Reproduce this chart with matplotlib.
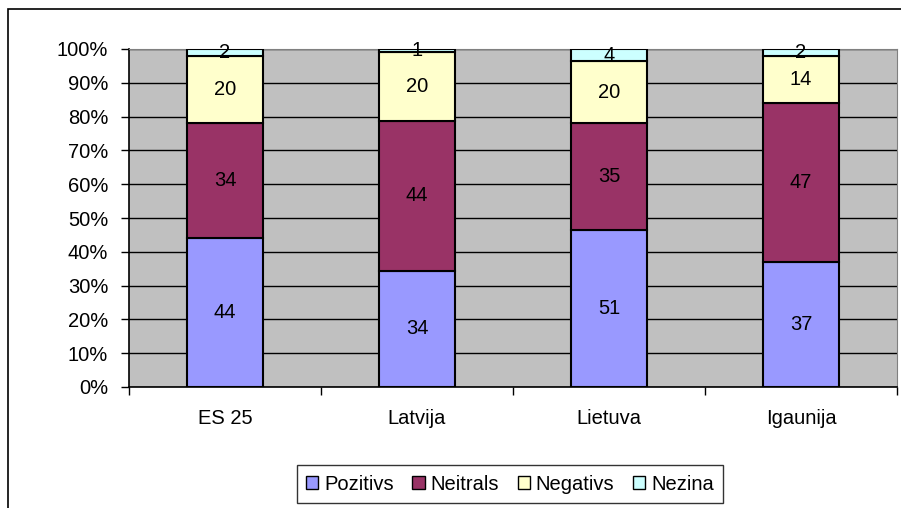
import numpy as np
import matplotlib.pyplot as plt
from matplotlib.patches import Rectangle
from matplotlib.ticker import FixedLocator, PercentFormatter

plt.rcParams['font.family'] = ['Liberation Sans', 'DejaVu Sans']

countries = ['ES 25', 'Latvija', 'Lietuva', 'Igaunija']
series_names = ['Pozitivs', 'Neitrals', 'Negativs', 'Nezina']
pozitivs = [44, 34, 51, 37]
neitrals = [34, 44, 35, 47]
negativs = [20, 20, 20, 14]
nezina = [2, 1, 4, 2]
colors = ['#9999FF', '#993366', '#FFFFCC', '#CCFFFF']

W, H = 901, 508
fig = plt.figure(figsize=(W / 100, H / 100), dpi=100)
ax = fig.add_axes([129 / W, (H - 387) / H, 768 / W, 338 / H])
ax.set_facecolor('#C0C0C0')

values = np.array([pozitivs, neitrals, negativs, nezina], dtype=float)
totals = values.sum(axis=0)
shares = values / totals * 100            # 100% stacked
x = np.arange(len(countries))
bottom = np.zeros(len(countries))
for name, raw, share, col in zip(series_names, values, shares, colors):
    ax.bar(x, share, 0.396, bottom=bottom, color=col, edgecolor='black',
           linewidth=1.5, label=name, zorder=3)
    for xi, b, s, r in zip(x, bottom, share, raw):
        ax.text(xi, b + s / 2, f'{r:.0f}', ha='center', va='center',
                fontsize=14.5, zorder=4)
    bottom += share

ax.set_xlim(-0.5, len(countries) - 0.5)
ax.set_ylim(0, 100)
ax.set_yticks(np.arange(0, 101, 10))
ax.yaxis.set_major_formatter(PercentFormatter(decimals=0))
ax.grid(axis='y', color='black', linewidth=1, zorder=1)
ax.set_axisbelow(True)

# ticks between categories, labels at centres
ax.xaxis.set_major_locator(FixedLocator(np.arange(-0.5, len(countries), 1)))
ax.set_xticklabels([])
ax.xaxis.set_minor_locator(FixedLocator(x))
ax.set_xticks(x, countries, minor=True)
ax.tick_params(axis='x', which='major', length=6, width=1, direction='out')
ax.tick_params(axis='x', which='minor', length=0, pad=16, labelsize=14.5)
ax.tick_params(axis='y', length=6, width=1, pad=9, labelsize=14.5)

for side in ('top', 'right'):
    ax.spines[side].set_color('#808080')
for side in ('left', 'bottom'):
    ax.spines[side].set_color('black')
    ax.spines[side].set_linewidth(1.2)

leg = ax.legend(loc='center', bbox_to_anchor=(510 / W, (H - 484) / H),
                bbox_transform=fig.transFigure, ncol=4, frameon=True,
                fancybox=False, edgecolor='black', fontsize=14.5,
                handlelength=0.6, handleheight=0.6, handletextpad=0.3,
                columnspacing=0.92, borderpad=0.45)
leg.get_frame().set_linewidth(1)
for h in leg.legend_handles:
    h.set_linewidth(1)

# outer chart frame (cropped at right and bottom)
fig.patches.append(Rectangle((8 / W, -0.1), 1.0, (H - 9) / H + 0.1,
                             transform=fig.transFigure, fill=False,
                             edgecolor='black', linewidth=1.2))

fig.savefig('out.png', dpi=100)
